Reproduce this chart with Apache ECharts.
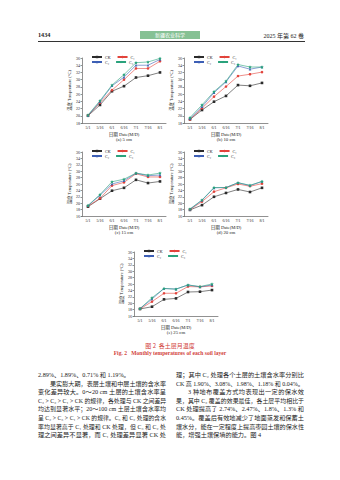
<!DOCTYPE html>
<html>
<head>
<meta charset="utf-8">
<script src="https://cdn.jsdelivr.net/npm/echarts@6/dist/echarts.min.js"></script>
<style>
  html, body { margin: 0; padding: 0; background: #fff; }
  #page { position: relative; width: 340px; height: 480px; overflow: hidden;
    font-family: "Liberation Serif", "Noto Sans CJK SC", serif; color: #222; }
  #chart { position: absolute; left: 0; top: 0; width: 340px; height: 480px; }
  .abs { position: absolute; white-space: nowrap; }
  .col { position: absolute; width: 128px; font-size: 6.2px; line-height: 8.6px; }
  .col div { text-align: justify; text-align-last: justify; white-space: nowrap; }
  .col div.end { text-align-last: left; }
  .ind { text-indent: 12px; }
  .cap { left: 0; width: 340px; text-align: center; color: #d2423c; }
</style>
</head>
<body>
<div id="page">
  <div class="abs" style="left:38px;top:31px;font-size:6.2px;font-weight:bold;">1434</div>
  <div class="abs" style="left:140px;top:31px;width:60px;height:8px;background:#86c194;color:#fff;font-size:5px;line-height:8px;text-align:center;font-family:'Noto Sans CJK SC';">新疆农业科学</div>
  <div class="abs" style="left:250px;top:31px;width:54px;text-align:right;font-size:6px;">2025 年第 62 卷</div>
  <div class="abs" style="left:38px;top:41px;width:267px;height:1px;background:#333;"></div>

  <div class="abs cap" style="top:341px;font-size:6px;font-family:'Noto Sans CJK SC';">图 2&nbsp;&nbsp;各土层月温度</div>
  <div class="abs cap" style="top:350px;font-size:5.6px;font-weight:bold;">Fig. 2&nbsp;&nbsp;&nbsp;Monthly temperatures of each soil layer</div>

  <div class="col" style="left:38px;top:371px;">
    <div class="end">2.89%、1.89%、0.71% 和 1.19%。</div>
    <div class="ind">果实膨大期，表层土壤和中层土壤的含水率</div>
    <div>变化差异较大。0～20 cm 土层的土壤含水率呈</div>
    <div>C₃ &gt; C₂ &gt; C₁ &gt; CK 的规律，各处理与 CK 之间差异</div>
    <div>均达到显著水平；20～100 cm 土层土壤含水率均</div>
    <div>呈 C₂ &gt; C₃ &gt; C₁ &gt; CK 的规律。C₃ 和 C₂ 处理的含水</div>
    <div>率均显著高于 C₁ 处理和 CK 处理，但 C₃ 和 C₂ 处</div>
    <div>理之间差异不显著，而 C₁ 处理差异显著 CK 处</div>
  </div>
  <div class="col" style="left:176px;top:371px;">
    <div>理；其中 C₂ 处理各个土层的土壤含水率分别比</div>
    <div class="end">CK 高 1.90%、3.08%、1.98%、1.18% 和 0.04%。</div>
    <div class="ind">3 种地布覆盖方式均表现出一定的保水效</div>
    <div>果，其中 C₂ 覆盖的效果最佳，各土层平均相比于</div>
    <div>CK 处理提高了 2.74%、2.47%、1.8%、1.3% 和</div>
    <div>0.45%。覆盖后有效地减少了地面蒸发和保蓄土</div>
    <div>壤水分，能在一定程度上提高枣园土壤的保水性</div>
    <div class="end">能，增强土壤保墒的能力。图 4</div>
  </div>

  <div id="chart"></div>
</div>
<script>
const DATES = ["5/1", "5/16", "6/1", "6/16", "7/1", "7/16", "8/1"];
const TREATMENTS = ["CK", "C₁", "C₂", "C₃"];

// soil temperature (°C) per depth, one list per treatment
const CK_5 = [20.0, 23.0, 26.8, 28.2, 30.6, 31.1, 32.0];
const C1_5 = [20.1, 23.6, 27.1, 30.0, 33.1, 33.1, 35.1];
const C2_5 = [20.1, 23.9, 28.3, 30.7, 34.0, 34.0, 35.6];
const C3_5 = [20.2, 24.2, 28.5, 31.4, 34.7, 34.9, 35.9];

const CK_10 = [19.0, 21.6, 23.9, 25.5, 28.5, 28.3, 29.1];
const C1_10 = [19.0, 22.1, 25.3, 28.1, 31.0, 31.5, 32.1];
const C2_10 = [19.2, 22.5, 26.4, 29.4, 33.8, 32.9, 33.5];
const C3_10 = [19.5, 23.0, 26.7, 29.6, 34.2, 33.5, 33.5];

const CK_15 = [18.9, 21.4, 23.9, 24.8, 27.3, 26.3, 26.8];
const C1_15 = [19.1, 21.5, 25.5, 26.5, 29.2, 28.2, 28.2];
const C2_15 = [19.2, 22.5, 26.0, 27.0, 29.4, 28.6, 28.8];
const C3_15 = [19.3, 22.7, 26.7, 27.5, 29.4, 28.8, 29.4];

const CK_20 = [17.9, 19.4, 22.0, 23.2, 24.3, 23.5, 24.8];
const C1_20 = [18.0, 20.5, 23.6, 24.8, 26.0, 25.3, 26.1];
const C2_20 = [18.1, 20.9, 24.8, 24.9, 26.4, 25.5, 26.8];
const C3_20 = [18.2, 21.0, 24.9, 24.9, 26.4, 25.6, 26.8];

const CK_25 = [18.2, 18.9, 21.2, 21.5, 23.5, 23.6, 24.1];
const C1_25 = [18.2, 20.5, 23.1, 23.1, 25.2, 25.1, 25.4];
const C2_25 = [18.3, 21.3, 24.6, 24.4, 25.7, 25.1, 25.7];
const C3_25 = [18.3, 21.7, 24.6, 24.4, 25.7, 25.2, 26.0];

const Y_MIN = [18, 18, 16, 16, 16];
const Y_MAX = [36, 36, 36, 36, 36];
const CAPTIONS = ["(a) 5 cm", "(b) 10 cm", "(c) 15 cm", "(d) 20 cm", "(e) 25 cm"];

const PANELS = [
  [CK_5, C1_5, C2_5, C3_5],
  [CK_10, C1_10, C2_10, C3_10],
  [CK_15, C1_15, C2_15, C3_15],
  [CK_20, C1_20, C2_20, C3_20],
  [CK_25, C1_25, C2_25, C3_25]
];

// layout of each small plot on the page
const BOXES = [
  { left: 82, top: 58, width: 84, height: 65 },
  { left: 184, top: 58, width: 84, height: 65 },
  { left: 82, top: 152, width: 84, height: 64 },
  { left: 184, top: 152, width: 84, height: 64 },
  { left: 134, top: 252, width: 84, height: 64 }
];

const COLORS = ["#2b2b2b", "#e2433b", "#3d5fb5", "#2aa27c"];
const STAR = "path://M0,-10L2.9,-4L9.5,-3.1L4.8,1.5L5.9,8.1L0,5L-5.9,8.1L-4.8,1.5L-9.5,-3.1L-2.9,-4Z";
const SYMBOLS = ["rect", "circle", "triangle", STAR];
const FONT = "'Liberation Serif', 'Noto Sans CJK SC', serif";

// shrink body lines that do not fit the column
document.querySelectorAll(".col div").forEach(el => {
  let fs = 6.2;
  while (el.scrollWidth > el.clientWidth && fs > 4) {
    fs -= 0.1;
    el.style.fontSize = fs + "px";
  }
});

const chart = echarts.init(document.getElementById("chart"), null, { renderer: "svg" });

const grid = [], xAxis = [], yAxis = [], series = [], legend = [], graphic = [];

BOXES.forEach((b, i) => {
  grid.push({ left: b.left, top: b.top, width: b.width, height: b.height });
  xAxis.push({
    type: "category",
    gridIndex: i,
    data: DATES,
    boundaryGap: true,
    name: "日期 Date(M/D)",
    nameLocation: "middle",
    nameGap: 9,
    nameTextStyle: { fontSize: 4.6, color: "#222", fontFamily: FONT },
    axisLine: { lineStyle: { color: "#222", width: 0.5 } },
    axisTick: { alignWithLabel: true, length: 1.5, lineStyle: { width: 0.5 } },
    axisLabel: { fontSize: 4, color: "#222", margin: 2.5, interval: 0, fontFamily: FONT }
  });
  yAxis.push({
    type: "value",
    gridIndex: i,
    min: Y_MIN[i],
    max: Y_MAX[i],
    interval: 2,
    name: "温度 Temperature (°C)",
    nameLocation: "middle",
    nameRotate: 90,
    nameGap: 9,
    nameTextStyle: { fontSize: 4.4, color: "#222", fontFamily: FONT },
    axisLine: { show: true, lineStyle: { color: "#222", width: 0.5 } },
    axisTick: { show: true, length: 1.5, lineStyle: { width: 0.5 } },
    axisLabel: { fontSize: 4, color: "#222", margin: 2, fontFamily: FONT },
    splitLine: { show: false }
  });
  PANELS[i].forEach((vals, k) => {
    series.push({
      type: "line",
      name: TREATMENTS[k],
      xAxisIndex: i,
      yAxisIndex: i,
      data: vals,
      symbol: SYMBOLS[k],
      symbolSize: k === 3 ? 3.4 : 2.6,
      color: COLORS[k],
      lineStyle: { width: 0.6 },
      animation: false
    });
  });
  [[0, 1], [2, 3]].forEach((pair, row) => {
    legend.push({
      data: pair.map(k => TREATMENTS[k]),
      left: b.left + 9,
      top: b.top - 3 + row * 5,
      itemWidth: 10,
      itemHeight: 3,
      itemGap: 6,
      selectedMode: false,
      padding: 0,
      textStyle: { fontSize: 4, color: "#222", fontFamily: FONT, padding: [0, 0, 0, -2] }
    });
  });
  graphic.push({
    type: "text",
    x: b.left + b.width / 2,
    y: b.top + b.height + 14,
    style: { text: CAPTIONS[i], fill: "#222", font: "4.8px " + FONT, align: "center" }
  });
});

chart.setOption({
  animation: false,
  grid, xAxis, yAxis, series, legend, graphic
});
</script>
</body>
</html>
